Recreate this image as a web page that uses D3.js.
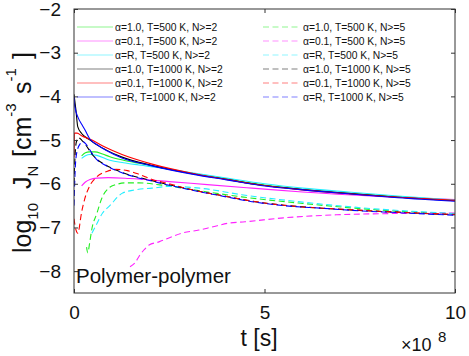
<!DOCTYPE html>
<html><head><meta charset="utf-8">
<script src="https://cdn.jsdelivr.net/npm/d3@7"></script>
<style>
html,body{margin:0;padding:0;background:#fff;}
svg{display:block;font-family:"Liberation Sans",Arial,Helvetica,sans-serif;}
</style></head>
<body>
<svg id="c" width="469" height="356"></svg>
<script>
// ---- data (t in units of 1e8 s, values = log10 J_N) ----
const xTicks = [0, 5, 10];
const yTicks = [-2, -3, -4, -5, -6, -7, -8];
const legendLabels = [
  "α=1.0, T=500 K, N>=2", "α=0.1, T=500 K, N>=2", "α=R, T=500 K, N>=2",
  "α=1.0, T=1000 K, N>=2", "α=0.1, T=1000 K, N>=2", "α=R, T=1000 K, N>=2",
  "α=1.0, T=500 K, N>=5", "α=0.1, T=500 K, N>=5", "α=R, T=500 K, N>=5",
  "α=1.0, T=1000 K, N>=5", "α=0.1, T=1000 K, N>=5", "α=R, T=1000 K, N>=5"
];

const tGreenSolid = [0.2, 0.3, 0.4, 0.55, 0.75, 0.94, 1.3, 1.7, 2.3, 3.1, 4, 5, 6, 7.2, 8.5, 10];
const yGreenSolid = [-5.36, -5.29, -5.27, -5.27, -5.32, -5.38, -5.46, -5.53, -5.63, -5.76, -5.89, -6.03, -6.13, -6.22, -6.3, -6.38];

const tMagentaSolid = [0.2, 0.3, 0.42, 0.6, 0.9, 1.45, 2.5, 3.5, 4.67, 6, 8, 10];
const yMagentaSolid = [-6.05, -5.96, -5.9, -5.87, -5.86, -5.88, -5.95, -6.02, -6.1, -6.19, -6.29, -6.36];

const tCyanSolid = [0.2, 0.3, 0.42, 0.6, 0.94, 1.3, 1.7, 2.3, 3.1, 4, 5, 6, 7.2, 8.5, 10];
const yCyanSolid = [-5.42, -5.36, -5.33, -5.35, -5.46, -5.52, -5.57, -5.64, -5.75, -5.87, -6.0, -6.1, -6.19, -6.28, -6.37];

const tBlackSolid = [0, 0.05, 0.1, 0.2, 0.3, 0.42, 0.6, 0.85, 1.26, 2.05, 3.1, 4, 4.9, 6, 7.2, 8.5, 10];
const yBlackSolid = [-3.95, -4.31, -4.7, -4.85, -4.93, -5.0, -5.11, -5.23, -5.39, -5.58, -5.77, -5.9, -6.03, -6.13, -6.22, -6.31, -6.39];

const tRedSolid = [0, 0.01, 0.08, 0.2, 0.47, 0.81, 1.26, 2.05, 3.1, 4, 4.9, 6, 7.2, 8.5, 10];
const yRedSolid = [-5.4, -4.84, -4.84, -4.9, -5.0, -5.16, -5.33, -5.55, -5.76, -5.9, -6.03, -6.14, -6.23, -6.31, -6.38];

const tBlueSolid = [0, 0.01, 0.03, 0.1, 0.21, 0.29, 0.42, 0.6, 0.85, 1.26, 2.05, 3.1, 4, 4.9, 6, 7.2, 8.5, 10];
const yBlueSolid = [-4.0, -4.15, -4.27, -4.47, -4.65, -4.77, -4.98, -5.1, -5.24, -5.41, -5.59, -5.78, -5.91, -6.04, -6.14, -6.23, -6.32, -6.4];

const tGreenDash = [0.33, 0.36, 0.42, 0.47, 0.6, 0.73, 0.94, 1.1, 1.35, 1.7, 2.3, 3, 4.4, 6, 8, 10];
const yGreenDash = [-7.45, -7.58, -7.3, -7.03, -6.68, -6.33, -6.08, -6.02, -5.98, -5.98, -6.03, -6.12, -6.3, -6.45, -6.6, -6.69];

const tMagentaDash = [1.47, 1.6, 1.73, 1.84, 1.97, 2.23, 2.49, 2.83, 3.28, 3.62, 4.07, 4.49, 5.5, 6.9, 8.5, 10];
const yMagentaDash = [-7.9, -7.81, -7.63, -7.51, -7.4, -7.33, -7.24, -7.13, -7.06, -6.99, -6.9, -6.87, -6.78, -6.71, -6.68, -6.67];

const tCyanDash = [0.47, 0.55, 0.75, 0.94, 1.26, 1.6, 2.05, 2.5, 3.3, 4.4, 6, 8, 10];
const yCyanDash = [-7.13, -7.0, -6.67, -6.5, -6.22, -6.14, -6.1, -6.06, -6.1, -6.25, -6.42, -6.58, -6.68];

const tBlackDash = [0, 0.02, 0.06, 0.12, 0.2, 0.3, 0.47, 0.6, 0.81, 1.26, 2.05, 3, 4, 4.67, 5.5, 6.5, 7.5, 8.5, 9.2, 10];
const yBlackDash = [-6.0, -5.5, -5.05, -4.95, -5.0, -5.1, -5.32, -5.44, -5.56, -5.74, -5.93, -6.12, -6.29, -6.4, -6.49, -6.56, -6.61, -6.65, -6.68, -6.71];

const tRedDash = [0, 0.05, 0.1, 0.2, 0.28, 0.4, 0.6, 0.86, 1.1, 1.4, 1.7, 2.05, 2.5, 3, 4, 5, 6, 7, 8, 9, 10];
const yRedDash = [-6.8, -7.05, -7.13, -6.65, -6.35, -6.07, -5.84, -5.72, -5.67, -5.7, -5.78, -5.9, -6.0, -6.12, -6.29, -6.44, -6.53, -6.58, -6.63, -6.67, -6.7];

const tBlueDash = [0, 0.01, 0.03, 0.07, 0.15, 0.24, 0.32, 0.47, 0.6, 0.81, 1.26, 2.05, 3, 4, 4.67, 5.5, 6.5, 7.5, 8.5, 9.2, 10];
const yBlueDash = [-6.5, -6.2, -5.7, -5.3, -5.1, -5.04, -5.1, -5.3, -5.45, -5.57, -5.75, -5.94, -6.13, -6.3, -6.41, -6.5, -6.56, -6.62, -6.66, -6.69, -6.72];

// ---- styling ----
const colors = ["#22ee22", "#ff22ff", "#22eeff", "#000000", "#ff0000", "#0000ff"];
const series = [
  [tGreenSolid, yGreenSolid], [tMagentaSolid, yMagentaSolid], [tCyanSolid, yCyanSolid],
  [tBlackSolid, yBlackSolid], [tRedSolid, yRedSolid], [tBlueSolid, yBlueSolid],
  [tGreenDash, yGreenDash], [tMagentaDash, yMagentaDash], [tCyanDash, yCyanDash],
  [tBlackDash, yBlackDash], [tRedDash, yRedDash], [tBlueDash, yBlueDash]
].map((s, i) => ({
  pts: s[0].map((t, j) => [t, s[1][j]]),
  color: colors[i % 6],
  dashed: i >= 6,
  label: legendLabels[i]
}));

const L = 74, R = 455, T = 9, B = 293;
const x = d3.scaleLinear().domain([0, 10]).range([L, R]);
const y = d3.scaleLinear().domain([-8.5, -2]).range([B, T]);
const svg = d3.select("#c");
const axisColor = "#333";
const textColor = "#111";
const DASH = "6,3.5";

svg.append("defs").append("clipPath").attr("id", "clip")
  .append("rect").attr("x", L).attr("y", T).attr("width", R - L).attr("height", B - T);

// data lines
const line = d3.line().x(d => x(d[0])).y(d => y(d[1])).curve(d3.curveMonotoneX);
const gLines = svg.append("g").attr("clip-path", "url(#clip)");
series.forEach(s => {
  gLines.append("path").attr("d", line(s.pts))
    .attr("fill", "none").attr("stroke", s.color).attr("stroke-width", 1.1)
    .attr("stroke-dasharray", s.dashed ? DASH : null);
});

// axes
function styleAxis(g) {
  g.select(".domain").remove();
  g.selectAll(".tick line").attr("stroke", axisColor);
  g.selectAll(".tick text").attr("fill", textColor).attr("font-size", 19)
    .attr("font-family", '"Liberation Sans",Arial,sans-serif');
}
svg.append("g").attr("transform", `translate(0,${B})`)
  .call(d3.axisBottom(x).tickValues(xTicks).tickFormat(d3.format("d")).tickSize(-4).tickSizeOuter(0).tickPadding(13))
  .call(styleAxis);
svg.append("g").attr("transform", `translate(0,${T})`)
  .call(d3.axisTop(x).tickValues(xTicks).tickFormat("").tickSize(-4).tickSizeOuter(0))
  .call(styleAxis);
svg.append("g").attr("transform", `translate(${L},0)`)
  .call(d3.axisLeft(y).tickValues(yTicks).tickFormat(d3.format("d")).tickSize(-4).tickSizeOuter(0).tickPadding(13))
  .call(styleAxis);
svg.append("g").attr("transform", `translate(${R},0)`)
  .call(d3.axisRight(y).tickValues(yTicks).tickFormat("").tickSize(-4).tickSizeOuter(0))
  .call(styleAxis);

// box
svg.append("rect").attr("x", L).attr("y", T).attr("width", R - L).attr("height", B - T)
  .attr("fill", "none").attr("stroke", axisColor).attr("stroke-width", 1);

// legend
const legend = svg.append("g");
series.forEach((s, i) => {
  const col = i < 6 ? 0 : 1, row = i % 6;
  const x1 = col === 0 ? 77 : 263, x2 = col === 0 ? 113 : 301, tx = col === 0 ? 115 : 303;
  const yy = 27 + row * 14;
  legend.append("line").attr("x1", x1).attr("x2", x2).attr("y1", yy).attr("y2", yy)
    .attr("stroke", s.color).attr("stroke-opacity", 0.5).attr("stroke-width", 1.2)
    .attr("stroke-dasharray", s.dashed ? DASH : null);
  legend.append("text").attr("x", tx).attr("y", yy).attr("dy", "0.36em")
    .attr("font-size", 10.3).attr("fill", textColor).text(s.label);
});

// annotation
svg.append("text").attr("x", 76).attr("y", 283).attr("font-size", 20.5).attr("fill", textColor)
  .text("Polymer-polymer");

// x label
svg.append("text").attr("x", 259).attr("y", 346).attr("text-anchor", "middle")
  .attr("font-size", 23).attr("fill", textColor).text("t [s]");
const xm = svg.append("text").attr("x", 401).attr("y", 351).attr("font-size", 18).attr("fill", textColor);
xm.append("tspan").text("×10");
xm.append("tspan").attr("x", 438).attr("y", 342).attr("font-size", 15).text("8");

// y label (rotated)
const yl = svg.append("text").attr("transform", "translate(31,0) rotate(-90)")
  .attr("font-size", 25).attr("fill", textColor);
yl.append("tspan").attr("x", -253).attr("y", 0).text("log");
yl.append("tspan").attr("y", 7).attr("font-size", 15).text("10");
yl.append("tspan").attr("x", -189).attr("y", 0).text("J");
yl.append("tspan").attr("y", 7).attr("font-size", 15).text("N");
yl.append("tspan").attr("x", -157).attr("y", 0).text("[cm");
yl.append("tspan").attr("y", -15).attr("font-size", 15).text("-3");
yl.append("tspan").attr("x", -94).attr("y", 0).text("s");
yl.append("tspan").attr("y", -15).attr("font-size", 15).text("-1");
yl.append("tspan").attr("x", -59).attr("y", 0).text("]");
</script>
</body></html>
